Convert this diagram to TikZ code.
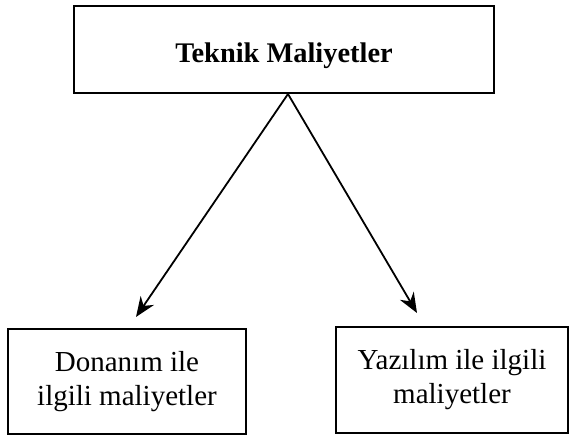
\documentclass[tikz,border=0pt]{standalone}
\usepackage{fontspec}
\setmainfont{Liberation Serif}
\usetikzlibrary{arrows.meta}

\begin{document}
\begin{tikzpicture}[x=0.5pt, y=-0.5pt,
	costbox/.style={draw=black, line width=1pt, align=center, inner sep=0pt, font=\fontsize{14.5}{17}\selectfont},
	costarrow/.style={-{Stealth[length=10pt, width=8pt]}, line width=0.9pt}]
	\useasboundingbox (0,0) rectangle (570,435);
	%main box at the top
	\node[costbox, minimum width=210pt, minimum height=43.5pt, text height=16pt, text depth=3pt, font=\fontsize{14.2}{17}\selectfont\bfseries] (teknik) at (284,49.5) {Teknik Maliyetler};
	%the two kinds of costs
	\node[costbox, minimum width=119pt, minimum height=52.5pt] (donanim) at (127,381.5) {Donanım ile \\ ilgili maliyetler};
	\node[costbox, minimum width=116pt, minimum height=53pt] (yazilim) at (452,380) {Yazılım ile ilgili \\ maliyetler};
	%arrows leave one point and stop short of the boxes
	\coordinate (split) at ([xshift=2pt]teknik.south);
	\coordinate (donanimtip) at (136,317);
	\coordinate (yazilimtip) at (417,313);
	\draw[costarrow] (split) -- (donanimtip);
	\draw[costarrow] (split) -- (yazilimtip);
\end{tikzpicture}
\end{document}
